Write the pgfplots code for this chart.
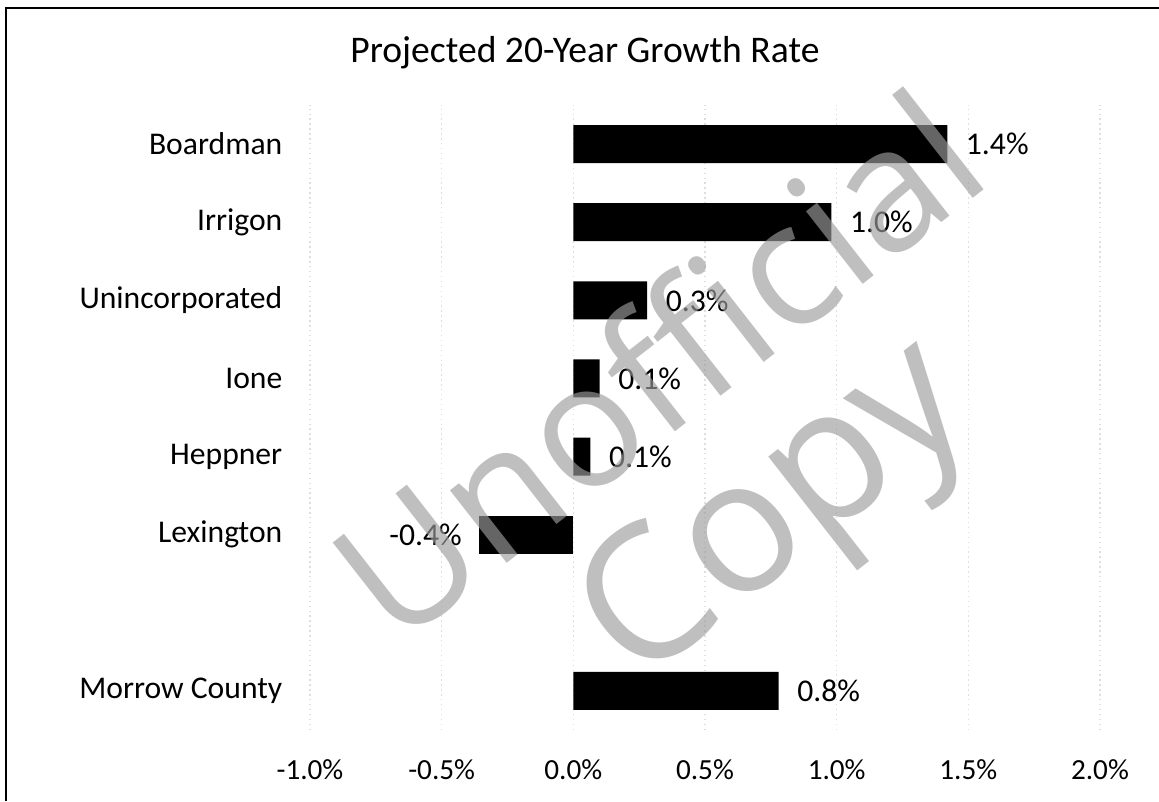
\documentclass[border=0pt]{standalone}
\usepackage{fontspec}
\setmainfont{Carlito}
\newfontfamily\wmfont{Open Sans}
\usepackage{pgfplots}
\pgfplotsset{compat=1.18}
\definecolor{wmgray}{RGB}{156,156,156}

% y position, growth rate (%), label
\pgfplotstableread{
y  x      lab
7  1.42   1.4\%
6  0.98   1.0\%
5  0.28   0.3\%
4  0.10   0.1\%
3  0.065  0.1\%
0  0.78   0.8\%
}\pos
\pgfplotstableread{
y  x      lab
2  -0.36  -0.4\%
}\neg

\begin{document}
\begin{tikzpicture}
\path[use as bounding box] (-3.10,-0.71) rectangle (8.49,7.30);
\draw[line width=0.8pt] (-3.04,-0.71) -- (-3.04,7.22) -- (8.49,7.22);
\begin{axis}[
  scale only axis, width=7.9cm, height=6.25cm,
  xmin=-1, xmax=2, ymin=-0.5, ymax=7.5,
  axis line style={draw=none}, tick style={draw=none}, major tick length=0pt,
  xmajorgrids, grid style={black!13, densely dotted, line width=0.4pt},
  xbar, bar width=3.8mm, bar shift=0pt,
  xtick={-1,-0.5,0,0.5,1,1.5,2},
  xticklabels={-1.0\%,-0.5\%,0.0\%,0.5\%,1.0\%,1.5\%,2.0\%},
  x tick label style={font=\fontsize{8.3}{10}\selectfont, anchor=center, inner sep=0pt, yshift=-4mm},
  ytick={0,1,2,3,4,5,6,7},
  yticklabels={Morrow County,,Lexington,Heppner,Ione,Unincorporated,Irrigon,Boardman},
  y tick label style={font=\fontsize{9}{11}\selectfont, anchor=east, inner sep=0pt, xshift=-2.7mm},
  title={Projected 20-Year Growth Rate},
  title style={font=\fontsize{10.7}{12}\selectfont, at={(0.348,1)}, anchor=base, inner sep=0pt, yshift=2.1mm},
  point meta=explicit symbolic,
  nodes near coords,
]
\addplot[fill=black, draw=none,
  every node near coord/.append style={font=\fontsize{9}{11}\selectfont, anchor=west, inner sep=0pt, xshift=1.8mm}]
  table[x=x, y=y, meta=lab] {\pos};
\addplot[fill=black, draw=none,
  every node near coord/.append style={font=\fontsize{9}{11}\selectfont, anchor=east, inner sep=0pt, xshift=-1.6mm}]
  table[x=x, y=y, meta=lab] {\neg};
\end{axis}
\begin{scope}[text=wmgray, text opacity=0.65]
\node[font=\wmfont\fontsize{49}{58}\selectfont, rotate=38] at (3.46,3.66) {Unofficial};
\node[font=\wmfont\fontsize{53}{60}\selectfont, rotate=38] at (4.70,2.12) {Copy};
\end{scope}
\end{tikzpicture}
\end{document}
